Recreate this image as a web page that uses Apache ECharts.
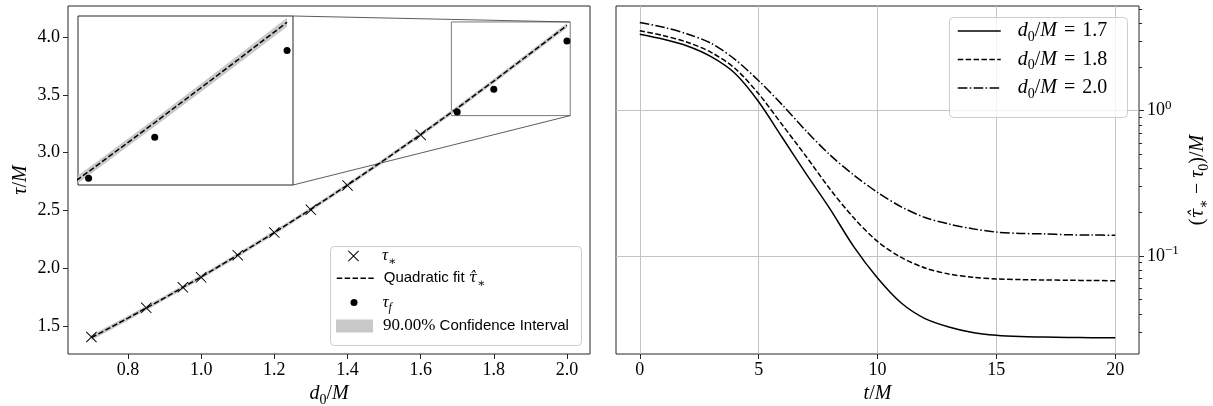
<!DOCTYPE html>
<html>
<head>
<meta charset="utf-8">
<script src="https://cdn.jsdelivr.net/npm/echarts@6/dist/echarts.min.js"></script>
<style>
  html, body { margin: 0; padding: 0; background: #fff; }
  #chart { width: 1213px; height: 406px; }
</style>
</head>
<body>
<div id="chart"></div>
<script>
// ---- left panel: decay time against initial separation ----
const d0Star = [0.7, 0.85, 0.95, 1.0, 1.1, 1.2, 1.3, 1.4, 1.6];
const tauStar = [1.405, 1.657, 1.835, 1.921, 2.113, 2.308, 2.505, 2.716, 3.153];

const d0Final = [1.7, 1.8, 2.0];
const tauFinal = [3.352, 3.549, 3.965];

const d0Fit = [0.7, 0.8, 0.9, 1.0, 1.1, 1.2, 1.3, 1.4, 1.5, 1.6, 1.7, 1.8, 1.9, 2.0];
const tauFit = [1.400, 1.568, 1.743, 1.925, 2.113, 2.308, 2.510, 2.719, 2.934, 3.156, 3.384, 3.619, 3.858, 4.100];
const ciLower = [1.378, 1.548, 1.724, 1.906, 2.095, 2.290, 2.492, 2.701, 2.916, 3.138, 3.365, 3.600, 3.838, 4.078];
const ciUpper = [1.422, 1.588, 1.762, 1.944, 2.131, 2.326, 2.528, 2.737, 2.952, 3.174, 3.403, 3.638, 3.878, 4.122];

const leftXTicks = [0.8, 1.0, 1.2, 1.4, 1.6, 1.8, 2.0];
const leftYTicks = [1.5, 2.0, 2.5, 3.0, 3.5, 4.0];

// zoomed window shown in the inset
const insetX = [1.684, 2.009];
const insetY = [3.32, 4.13];

// ---- right panel: residual against time ----
const tM = [0, 1, 2, 3, 4, 5, 6, 7, 8, 9, 10, 11, 12, 13, 14, 15, 16, 17, 18, 19, 20];
const res17 = [3.356, 3.100, 2.788, 2.353, 1.809, 1.153, 0.651, 0.367, 0.211, 0.116, 0.0706, 0.0475, 0.0371, 0.0325, 0.0298, 0.0285, 0.0279, 0.0277, 0.0275, 0.0274, 0.0274];
const res18 = [3.553, 3.283, 2.957, 2.523, 1.958, 1.307, 0.797, 0.484, 0.289, 0.183, 0.126, 0.0977, 0.0827, 0.0752, 0.0714, 0.0695, 0.0688, 0.0684, 0.0681, 0.0678, 0.0676];
const res20 = [4.046, 3.750, 3.373, 2.910, 2.258, 1.609, 1.094, 0.725, 0.496, 0.361, 0.274, 0.218, 0.184, 0.166, 0.154, 0.146, 0.143, 0.142, 0.140, 0.1395, 0.1389];

const rightXTicks = [0, 5, 10, 15, 20];
const rightYMajor = [0.1, 1];
const rightYMinor = [0.03, 0.04, 0.05, 0.06, 0.07, 0.08, 0.09, 0.2, 0.3, 0.4, 0.5, 0.6, 0.7, 0.8, 0.9, 2, 3, 4, 5];

// ---- styling ----
const SERIF = '"Liberation Serif", "DejaVu Serif", serif';
const SERIF_MARK = '"DejaVu Serif", "Liberation Serif", serif';
const SANS = '"Liberation Sans", "DejaVu Sans", sans-serif';
const INK = '#000000';
const SPINE = '#262626';
const GRIDLINE = '#c4c4c4';
const BAND = '#c9c9c9';
const X_MARK = 'path://M0,6L6,0L50,44L94,0L100,6L56,50L100,94L94,100L50,56L6,100L0,94L44,50Z';
const DASH = [5.5, 2.4];
const DASH_DOT = [9.6, 2.4, 1.5, 2.4];

function mathRich(size, sansSize, eqPad) {
  const small = Math.round(size * 0.7);
  const lh = size + 6;
  const pad = eqPad == null ? 4 : eqPad;
  return {
    i: { fontFamily: SERIF, fontStyle: 'italic', fontSize: size, lineHeight: lh, color: INK },
    h: { fontFamily: SERIF_MARK, fontStyle: 'italic', fontSize: Math.round(size * 0.88), lineHeight: lh, color: INK },
    r: { fontFamily: SERIF, fontSize: size, lineHeight: lh, color: INK },
    eq: { fontFamily: SERIF, fontSize: size, lineHeight: lh, color: INK, padding: [0, pad, 0, pad] },
    s: { fontFamily: SANS, fontSize: sansSize || Math.round(size * 0.85), lineHeight: lh, color: INK },
    sub: { fontFamily: SERIF, fontSize: small, lineHeight: small, verticalAlign: 'bottom', color: INK },
    subi: { fontFamily: SERIF, fontStyle: 'italic', fontSize: small, lineHeight: small, verticalAlign: 'bottom', color: INK },
    sup: { fontFamily: SERIF, fontSize: small, lineHeight: small, verticalAlign: 'top', color: INK }
  };
}

const legendText = {
  tauStar: '{i|τ}{sub|∗}',
  fit: '{s|Quadratic fit }{h|τ\u0302}{sub|∗}',
  tauF: '{i|τ}{subi|f}',
  ci: '{r|90.00%}{s| Confidence Interval}',
  d17: '{i|d}{sub|0}{r|/}{i|M}{eq|=}{r|1.7}',
  d18: '{i|d}{sub|0}{r|/}{i|M}{eq|=}{r|1.8}',
  d20: '{i|d}{sub|0}{r|/}{i|M}{eq|=}{r|2.0}'
};

const xy = (xs, ys) => xs.map((x, i) => [x, ys[i]]);

const tickStyle = { show: true, inside: false, length: 5, lineStyle: { color: SPINE, width: 1 } };
const labelBase = { color: INK, fontFamily: SERIF, fontSize: 18 };
const noLine = { show: false, onZero: false };

function gridBox(left, top, width, height, bg) {
  return {
    left, top, width, height,
    show: true,
    borderColor: SPINE,
    borderWidth: 1,
    backgroundColor: bg || 'transparent',
    containLabel: false,
    outerBoundsMode: 'none'
  };
}

// confidence band: one polygon through the upper edge and back along the lower edge
function bandSeries(xi, yi, name) {
  return {
    type: 'custom', name, coordinateSystem: 'cartesian2d', xAxisIndex: xi, yAxisIndex: yi,
    data: d0Fit.map((x, i) => [x, ciLower[i], ciUpper[i]]),
    encode: { x: 0, y: [1, 2] },
    silent: true, z: 1,
    itemStyle: { color: BAND },
    renderItem: (params, api) => {
      if (params.dataIndex !== 0) return null;
      const upper = d0Fit.map((x, i) => api.coord([x, ciUpper[i]]));
      const lower = d0Fit.map((x, i) => api.coord([x, ciLower[i]])).reverse();
      const cs = params.coordSys;
      return {
        type: 'group',
        clipPath: { type: 'rect', shape: { x: cs.x, y: cs.y, width: cs.width, height: cs.height } },
        children: [{ type: 'polygon', shape: { points: upper.concat(lower) }, style: { fill: BAND } }]
      };
    }
  };
}

const chart = echarts.init(document.getElementById('chart'), null, { renderer: 'canvas' });

const hiddenSymbol = { color: 'rgba(0,0,0,0)', borderWidth: 0, opacity: 0 };

const option = {
  animation: false,
  backgroundColor: '#ffffff',
  textStyle: { fontFamily: SERIF, color: INK },
  grid: [
    gridBox(68, 6, 522, 348),
    gridBox(78, 16, 215, 169, '#ffffff'),
    gridBox(616, 6, 523, 348)
  ],
  xAxis: [
    {
      type: 'value', gridIndex: 0, min: 0.636, max: 2.063,
      axisLine: noLine,
      axisTick: Object.assign({ customValues: leftXTicks }, tickStyle),
      axisLabel: Object.assign({ customValues: leftXTicks, margin: 7, formatter: v => v.toFixed(1) }, labelBase),
      splitLine: { show: false },
      name: '{i|d}{sub|0}{r|/}{i|M}',
      nameLocation: 'middle', nameGap: 26,
      nameTextStyle: { rich: mathRich(20) }
    },
    {
      type: 'value', gridIndex: 1, min: insetX[0], max: insetX[1],
      axisLine: noLine, axisTick: { show: false }, axisLabel: { show: false }, splitLine: { show: false }
    },
    {
      type: 'value', gridIndex: 2, min: -1, max: 21,
      axisLine: noLine,
      axisTick: Object.assign({ customValues: rightXTicks }, tickStyle),
      axisLabel: Object.assign({ customValues: rightXTicks, margin: 7, formatter: v => String(v) }, labelBase),
      splitLine: { show: true, lineStyle: { color: GRIDLINE, width: 1 } },
      name: '{i|t}{r|/}{i|M}',
      nameLocation: 'middle', nameGap: 26,
      nameTextStyle: { rich: mathRich(20) }
    }
  ],
  yAxis: [
    {
      type: 'value', gridIndex: 0, min: 1.258, max: 4.268,
      axisLine: noLine,
      axisTick: Object.assign({ customValues: leftYTicks }, tickStyle),
      axisLabel: Object.assign({ customValues: leftYTicks, margin: 8, formatter: v => v.toFixed(1) }, labelBase),
      splitLine: { show: false },
      name: '{i|τ}{r|/}{i|M}',
      nameLocation: 'middle', nameGap: 34, nameRotate: 90,
      nameTextStyle: { rich: mathRich(20) }
    },
    {
      type: 'value', gridIndex: 1, min: insetY[0], max: insetY[1],
      axisLine: noLine, axisTick: { show: false }, axisLabel: { show: false }, splitLine: { show: false }
    },
    {
      type: 'log', gridIndex: 2, position: 'right', min: 0.02116, max: 5.255,
      axisLine: noLine,
      axisTick: Object.assign({ customValues: rightYMajor }, tickStyle),
      axisLabel: {
        customValues: rightYMajor, margin: 8,
        formatter: v => (Math.abs(v - 1) < 1e-6 ? '{r|10}{sup|0}' : '{r|10}{sup|−1}'),
        rich: mathRich(18)
      },
      splitLine: { show: true, lineStyle: { color: GRIDLINE, width: 1 } },
      name: '{r|(}{h|τ\u0302}{sub|∗}{r| − }{i|τ}{sub|0}{r|)/}{i|M}',
      nameLocation: 'middle', nameGap: 46, nameRotate: 90,
      nameTextStyle: { rich: mathRich(20) }
    },
    {
      type: 'log', gridIndex: 2, position: 'right', min: 0.02116, max: 5.255,
      axisLine: noLine,
      axisTick: { show: true, inside: false, length: 3, customValues: rightYMinor, lineStyle: { color: SPINE, width: 1 } },
      axisLabel: { show: false },
      splitLine: { show: false }
    }
  ],
  legend: [
    {
      data: ['tauStar'], orient: 'vertical', left: 348, top: 259 - 11.5, padding: 0, z: 6,
      itemWidth: 11, itemHeight: 11, selectedMode: false,
      formatter: n => legendText[n],
      textStyle: { rich: mathRich(17, 15), padding: [0, 0, 0, 18] }
    },
    {
      data: ['fit'], orient: 'vertical', left: 336, top: 282.3 - 11.5, padding: 0, z: 6,
      itemWidth: 37, itemHeight: 11, selectedMode: false,
      lineStyle: { width: 1.5 },
      itemStyle: hiddenSymbol,
      formatter: n => legendText[n],
      textStyle: { rich: mathRich(17, 15), padding: [0, 0, 0, 5] }
    },
    {
      data: ['tauF'], orient: 'vertical', left: 350.5, top: 305.6 - 11.5, padding: 0, z: 6,
      itemWidth: 7, itemHeight: 7, selectedMode: false,
      formatter: n => legendText[n],
      textStyle: { rich: mathRich(17, 15), padding: [0, 0, 0, 20] }
    },
    {
      data: [{ name: 'ci', icon: 'rect', itemStyle: { color: BAND } }],
      orient: 'vertical', left: 336, top: 329 - 11.5, padding: 0, z: 6,
      itemWidth: 37, itemHeight: 13, selectedMode: false,
      formatter: n => legendText[n],
      textStyle: { rich: mathRich(17, 15), padding: [0, 0, 0, 5] }
    },
    {
      data: ['d17', 'd18', 'd20'], orient: 'vertical', left: 957, top: 34 - 13, padding: 0, z: 6,
      itemWidth: 43, itemHeight: 14, itemGap: 5.5, selectedMode: false,
      lineStyle: { width: 1.5 },
      itemStyle: hiddenSymbol,
      formatter: n => legendText[n],
      textStyle: { rich: mathRich(20, null, 7), padding: [0, 0, 0, 12] }
    }
  ],
  series: [
    bandSeries(0, 0, 'ci'),
    {
      type: 'line', name: 'fit', xAxisIndex: 0, yAxisIndex: 0,
      data: xy(d0Fit, tauFit), symbol: 'none', z: 3, color: INK,
      lineStyle: { color: INK, width: 1.5, type: DASH }
    },
    {
      type: 'scatter', name: 'tauStar', xAxisIndex: 0, yAxisIndex: 0,
      data: xy(d0Star, tauStar), symbol: X_MARK, symbolSize: 11, z: 4,
      itemStyle: { color: INK, opacity: 1 }
    },
    {
      type: 'scatter', name: 'tauF', xAxisIndex: 0, yAxisIndex: 0,
      data: xy(d0Final, tauFinal), symbol: 'circle', symbolSize: 7, z: 4,
      itemStyle: { color: INK, opacity: 1 },
      markArea: {
        silent: true,
        itemStyle: { color: 'rgba(0,0,0,0)', borderColor: '#7a7a7a', borderWidth: 1 },
        data: [[{ coord: [insetX[0], insetY[0]] }, { coord: [insetX[1], insetY[1]] }]]
      }
    },
    bandSeries(1, 1, 'ciZoom'),
    {
      type: 'line', name: 'fitZoom', xAxisIndex: 1, yAxisIndex: 1,
      data: xy(d0Fit, tauFit), symbol: 'none', z: 3, color: INK,
      lineStyle: { color: INK, width: 1.5, type: DASH }
    },
    {
      type: 'scatter', name: 'tauFZoom', xAxisIndex: 1, yAxisIndex: 1,
      data: xy(d0Final, tauFinal), symbol: 'circle', symbolSize: 7, z: 4,
      itemStyle: { color: INK, opacity: 1 }
    },
    {
      type: 'line', name: 'd17', xAxisIndex: 2, yAxisIndex: 2,
      data: xy(tM, res17), symbol: 'none', smooth: 0.3, z: 3, color: INK,
      lineStyle: { color: INK, width: 1.5, type: 'solid' }
    },
    {
      type: 'line', name: 'd18', xAxisIndex: 2, yAxisIndex: 2,
      data: xy(tM, res18), symbol: 'none', smooth: 0.3, z: 3, color: INK,
      lineStyle: { color: INK, width: 1.5, type: DASH }
    },
    {
      type: 'line', name: 'd20', xAxisIndex: 2, yAxisIndex: 2,
      data: xy(tM, res20), symbol: 'none', smooth: 0.3, z: 3, color: INK,
      lineStyle: { color: INK, width: 1.5, type: DASH_DOT }
    }
  ]
};

chart.setOption(option);

// connectors from the inset frame to the zoomed window, plus legend frames
const px = (xi, yi, p) => chart.convertToPixel({ xAxisIndex: xi, yAxisIndex: yi }, p);
const insetTR = px(1, 1, [insetX[1], insetY[1]]);
const insetBR = px(1, 1, [insetX[1], insetY[0]]);
const windowTR = px(0, 0, [insetX[1], insetY[1]]);
const windowBR = px(0, 0, [insetX[1], insetY[0]]);

const connector = (a, b) => ({
  type: 'line', z: 3, silent: true,
  shape: { x1: a[0], y1: a[1], x2: b[0], y2: b[1] },
  style: { stroke: '#4a4a4a', lineWidth: 0.9 }
});
const legendFrame = (x, y, w, h) => ({
  type: 'rect', z: 5, silent: true,
  shape: { x, y, width: w, height: h, r: 4 },
  style: { fill: 'rgba(255,255,255,0.8)', stroke: '#cccccc', lineWidth: 1 }
});

chart.setOption({
  graphic: {
    elements: [
      connector(insetTR, windowTR),
      connector(insetBR, windowBR),
      legendFrame(330.5, 246.5, 251, 99),
      legendFrame(949.5, 17.5, 178, 100)
    ]
  }
});
</script>
</body>
</html>
